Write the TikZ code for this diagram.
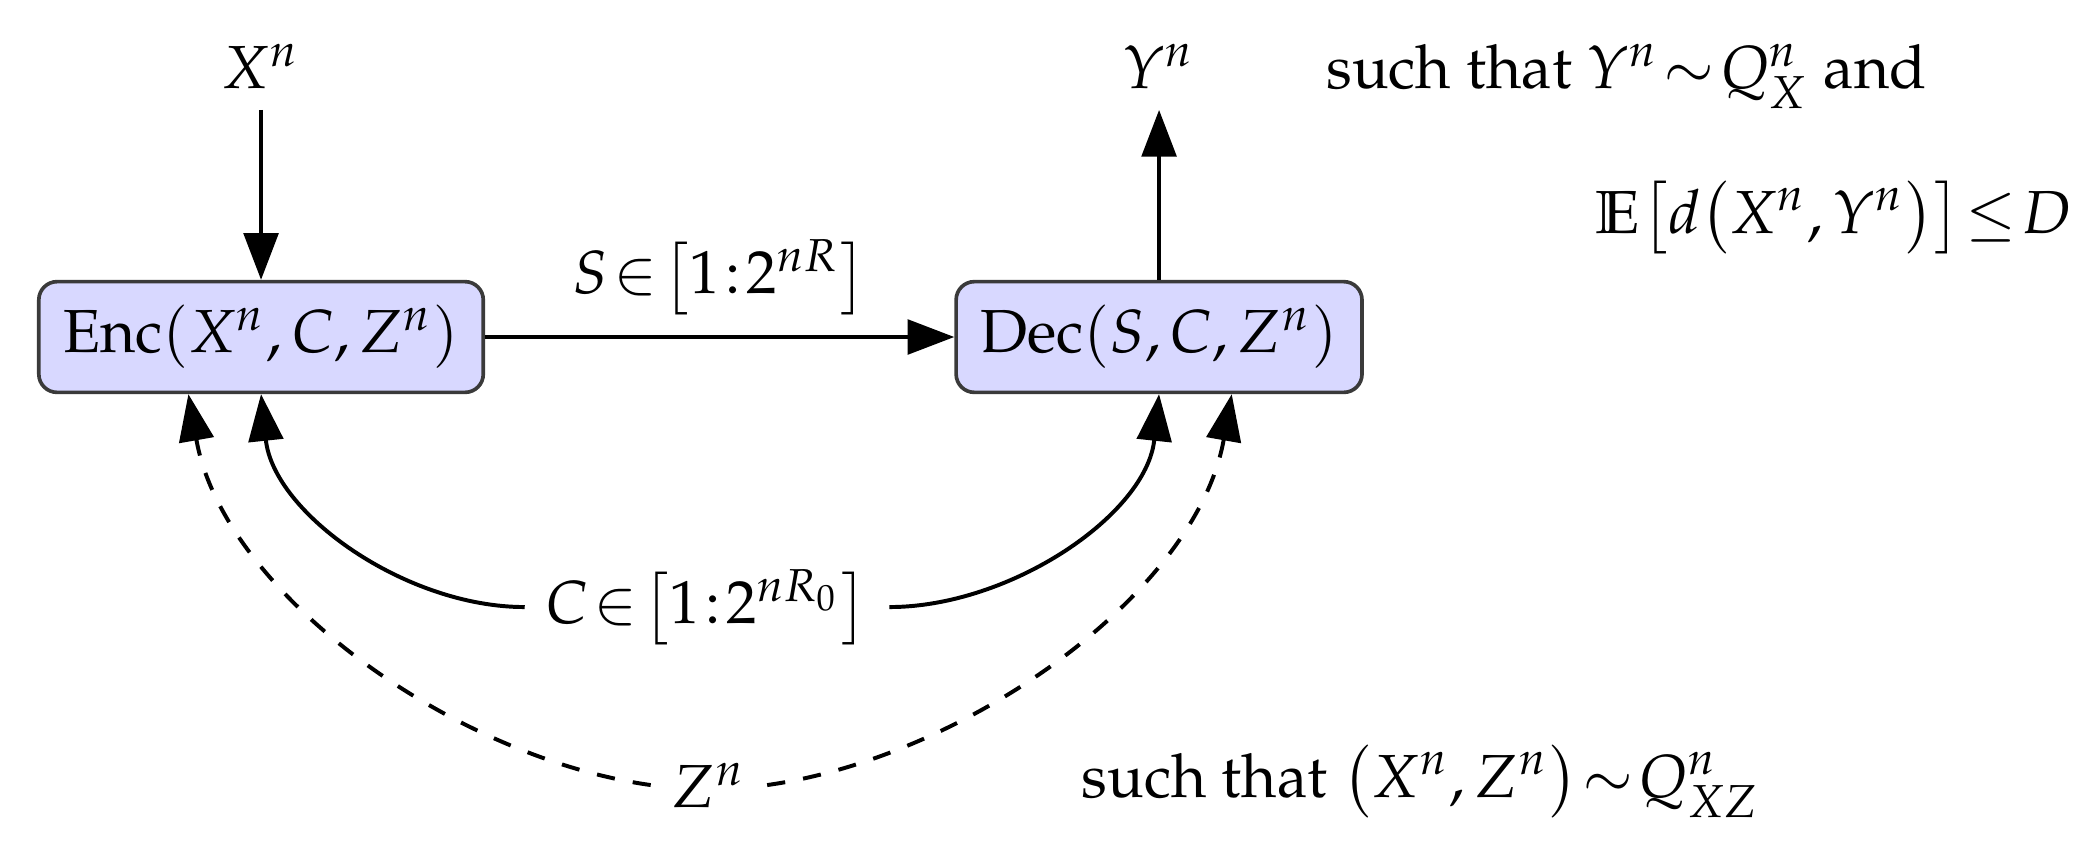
\documentclass[tikz,border=0pt]{standalone}
\usepackage[T1]{fontenc}
\usepackage{amssymb}
\usepackage{mathpazo}
\usetikzlibrary{arrows.meta,positioning}
\definecolor{boxblue}{HTML}{D8D8FF}
\definecolor{boxedge}{HTML}{3A3A3A}
\thickmuskip=1.5mu plus 1mu

\begin{document}
\begin{tikzpicture}[>={Triangle[length=2.7mm,width=2mm]},
  blk/.style={rounded corners=3pt,draw=boxedge,fill=boxblue,line width=0.6pt,
    minimum height=0.64cm,inner xsep=4pt,inner ysep=2pt},
  la/.style={->,line width=0.65pt},
  lb/.style={->,line width=0.65pt,dashed}]
\useasboundingbox (0,0) rectangle (12.064,-4.954);
\node[blk] (enc) at (1.509,-1.948) {Enc$\left(X^n,C,Z^n\right)$};
\node[blk] (dec) at (6.70,-1.948) {Dec$\left(S,C,Z^n\right)$};
\node (xin) at (1.509,-0.382) {$X^n$};
\node (yout) at (6.70,-0.382) {$Y^n$};
\node (clab) at (4.087,-3.509) {$C\in\left[1:2^{nR_0}\right]$};
\node (zlab) at (4.098,-4.538) {$Z^n$};
\node[anchor=base west] (cond1) at (7.543,-0.509) {such that $Y^n\sim Q_X^n$ and};
\node[anchor=base west] (cond2) at (9.10,-1.347) {$\mathbb{E}\bigl[d\bigl(X^n,Y^n\bigr)\bigr]\le D$};
\node[anchor=base west] (cond3) at (6.13,-4.607) {such that $\bigl(X^n,Z^n\bigr)\sim Q_{XZ}^n$};
\draw[la] (xin) -- (enc);
\draw[la] (dec) -- (yout);
\draw[la] (enc) -- node[above] {$S\in\left[1:2^{nR}\right]$} (dec);
\draw[la] (clab.west) to[out=180,in=-84,looseness=0.9] (enc.south);
\draw[la] (clab.east) to[out=0,in=-96,looseness=0.9] (dec.south);
\draw[lb] (zlab.west) to[out=172,in=-80,looseness=0.85] ([xshift=-0.42cm]enc.south);
\draw[lb] (zlab.east) to[out=8,in=-100,looseness=0.85] ([xshift=0.42cm]dec.south);
\end{tikzpicture}
\end{document}
